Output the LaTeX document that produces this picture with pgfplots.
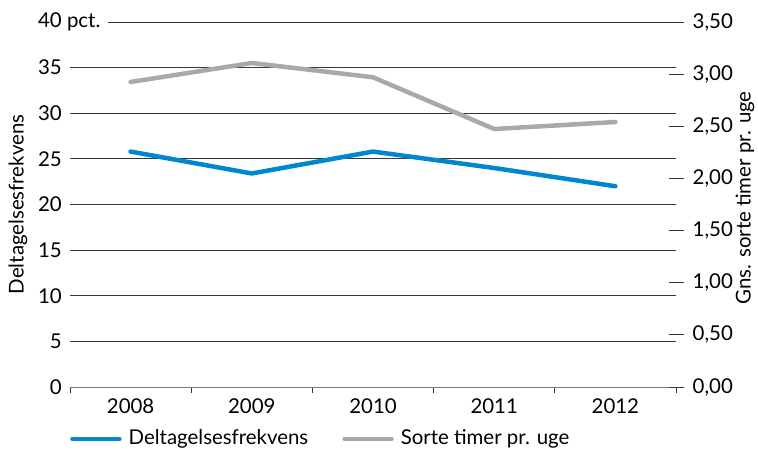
\documentclass[border=0pt]{standalone}
\usepackage{fontspec}
\setmainfont{Lato}
\usepackage{pgfplots}
\pgfplotsset{compat=1.18}
\definecolor{blueline}{RGB}{0,135,205}
\definecolor{grayline}{RGB}{168,169,173}
\definecolor{gridc}{RGB}{55,55,55}
\definecolor{axisc}{RGB}{120,120,120}
\newcommand{\fnt}{\fontsize{20.5}{24}\selectfont}
\begin{document}
\fnt
\begin{tikzpicture}
\begin{axis}[
  scale only axis, width=606bp, height=365bp,
  at={(0,0)}, anchor=south west,
  xmin=-0.5, xmax=4.5, ymin=0, ymax=40,
  clip=false,
  axis lines*=left,
  y axis line style={draw=none},
  x axis line style={axisc, line width=0.8bp},
  xtick={0,1,2,3,4}, xticklabels={2008,2009,2010,2011,2012},
  minor xtick={-0.5,0.5,1.5,2.5,3.5,4.5},
  major tick length=0bp,
  minor tick length=6bp, tick align=outside,
  minor x tick style={gridc, line width=0.8bp},
  ytick={0,5,10,15,20,25,30,35},
  extra y ticks={40}, extra y tick labels={40\rlap{ pct.}},
  extra y tick style={grid=none},
  ymajorgrids, major grid style={gridc, line width=0.8bp},
  ytick style={draw=none},
  /pgf/number format/assume math mode=true,
  tick label style={font=\fnt},
  yticklabel style={inner sep=0pt, anchor=east, xshift=-8bp},
  xticklabel style={inner sep=0pt, anchor=north, yshift=-12bp},
  ylabel={Deltagelsesfrekvens},
  ylabel style={at={(axis description cs:-0.0858,0.5)}, anchor=center, font=\fnt},
  legend columns=2,
  legend style={at={(axis description cs:0,0)}, anchor=west, yshift=-52bp,
    draw=none, fill=none, inner sep=0pt, font=\fnt,
    /tikz/every odd column/.append style={column sep=5bp},
    /tikz/every even column/.append style={column sep=32bp}},
  legend image code/.code={\draw[#1, line cap=round] (0bp,0bp) -- (47bp,0bp);},
]
\draw[gridc, line width=0.8bp] (axis cs:-0.1865,40) -- (axis cs:4.566,40);
\addplot[blueline, line width=4.5bp, line cap=round, line join=round] coordinates {
  (0,25.8) (1,23.4) (2,25.8) (3,24.0) (4,22.0)};
\addlegendentry{Deltagelsesfrekvens}
\addlegendimage{grayline, line width=4.5bp}
\addlegendentry{Sorte timer pr. uge}
\end{axis}
\begin{axis}[
  scale only axis, width=606bp, height=365bp,
  at={(0,0)}, anchor=south west,
  xmin=-0.5, xmax=4.5, ymin=0, ymax=3.5,
  axis x line=none, axis y line*=right,
  y axis line style={draw=none},
  ytick={0,0.5,1,1.5,2,2.5,3,3.5},
  tick align=center, major tick length=15bp,
  ytick style={gridc, line width=0.8bp},
  /pgf/number format/assume math mode=true,
  yticklabel style={/pgf/number format/.cd, fixed, fixed zerofill, precision=2, use comma, /tikz/.cd,
    inner sep=0pt, anchor=west, xshift=9bp, font=\fnt},
  ylabel={Gns. sorte timer pr. uge},
  ylabel style={at={(axis description cs:1.114,0.518)}, anchor=center, font=\fnt},
]
\addplot[grayline, line width=4.5bp, line cap=round, line join=round] coordinates {
  (0,2.925) (1,3.107) (2,2.97) (3,2.474) (4,2.541)};
\end{axis}
\pgfresetboundingbox
\path[use as bounding box] (-70bp,-63bp) rectangle (688bp,387bp);
\end{tikzpicture}
\end{document}
